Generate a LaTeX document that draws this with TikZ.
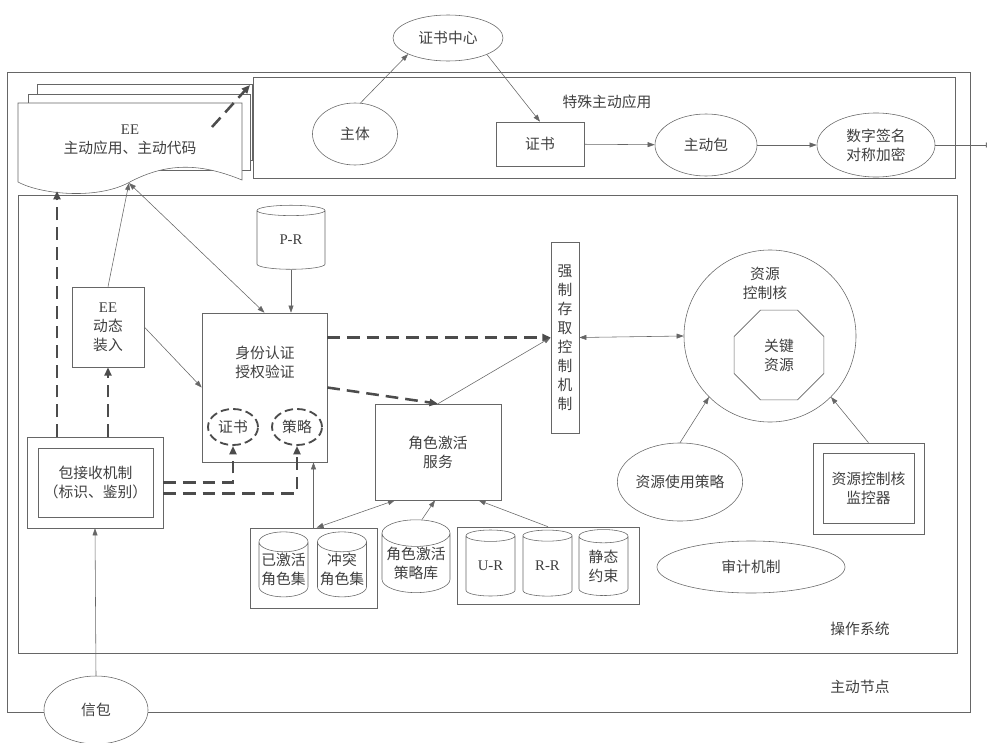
\documentclass[tikz,border=0pt]{standalone}
\usepackage{fontspec}
\setmainfont{Liberation Serif}
\newfontfamily\cjk{Noto Sans CJK SC}
\usepackage{tikz}
\usetikzlibrary{arrows.meta,shapes.geometric,calc}

\begin{document}
\begin{tikzpicture}[
    x=0.025cm, y=-0.025cm,
    % Style du texte pour tous les nœuds
    every node/.style={font=\fontsize{10.5}{13.5}\selectfont\cjk, text=black!75, align=center},
    % Style pour les boîtes rectangulaires
    boxnode/.style={rectangle, draw=black!60, thin, fill=white, inner sep=0pt},
    % Style pour les ellipses
    ellnode/.style={ellipse, draw=black!60, thin, fill=white, inner sep=0pt},
    % Style pour les bases de données (cylindres)
    cylnode/.style={cylinder, shape border rotate=90, shape aspect=0.45, draw=black!60, thin, fill=white, inner sep=0pt},
    % Style pour les cercles pointillés dans le bloc d'authentification
    dashnode/.style={ellipse, draw=black!70, line width=1.3pt, dash pattern=on 6pt off 3pt, inner sep=0pt, minimum width=1.25cm, minimum height=0.9cm},
    % Style pour les textes libres
    txtnode/.style={draw=none, fill=none, inner sep=0pt},
    % Style pour les liaisons fines
    thinline/.style={draw=black!60, thin, -{Triangle[length=5pt,width=3.5pt]}},
    % Style pour les liaisons épaisses en tirets
    dashline/.style={draw=black!70, line width=1.8pt, dash pattern=on 9pt off 5pt, -{Triangle[length=6pt,width=5pt]}}
]
\useasboundingbox (0,0) rectangle (987,743);

% Cadres principaux
\draw[black!60, thin] (7,72) rectangle (970,712);
\draw[black!60, thin] (253,77) rectangle (955,178);
\draw[black!60, thin] (18,195) rectangle (957,653);
\node[txtnode] (lblapp) at (607,102) {特殊主动应用};
\node[txtnode] (lblos) at (860,629) {操作系统};
\node[txtnode] (lblnode) at (860,687) {主动节点};

% Document EE (pages empilées)
\draw[black!60, thin, fill=white] (37,84) rectangle (252,160);
\draw[black!60, thin, fill=white] (28,94) rectangle (250,170);
\draw[black!60, thin, fill=white] (18,103) -- (242,103) -- (242,180)
    .. controls (205,165) and (170,160) .. (128,183)
    .. controls (95,200) and (40,194) .. (18,182) -- cycle;
\node[txtnode] (ee) at (130,140) {{\rmfamily EE}\\主动应用、主动代码};
\coordinate (eebot) at (129,183);
\coordinate (eeleft) at (57,191);
\coordinate (eecorner) at (212,127);
\coordinate (apptip) at (250,85);

% Partie haute : certificats
\node[ellnode, minimum width=2.75cm, minimum height=1.15cm] (zsc) at (448,38) {证书中心};
\node[ellnode, minimum width=2.125cm, minimum height=1.55cm] (zhuti) at (355,134) {主体};
\node[boxnode, minimum width=2.2cm, minimum height=1.1cm] (zs) at (540,144) {证书};
\node[ellnode, minimum width=2.55cm, minimum height=1.55cm] (zdb) at (706,145) {主动包};
\node[ellnode, minimum width=2.95cm, minimum height=1.6cm] (sig) at (876,145) {数字签名\\对称加密};
\coordinate (sortie) at (993,145);

% Bloc d'authentification
\node[cylnode, minimum width=1.7cm, minimum height=1.6cm] (pr) at (291,240) {\rmfamily P-R};
\node[boxnode, minimum width=3.125cm, minimum height=3.725cm] (auth) at (264.5,387.5) {};
\node[txtnode] (authtxt) at (265,362) {身份认证\\授权验证};
\node[dashnode] (cert) at (233,427) {证书};
\node[dashnode] (strat) at (297,427) {策略};
\node[boxnode, minimum width=1.8cm, minimum height=2cm] (eedyn) at (108,327) {{\rmfamily EE}\\动态\\装入};

% Réception des paquets
\node[boxnode, minimum width=3.4cm, minimum height=2.275cm] (pkt) at (95,482.5) {};
\node[boxnode, minimum width=2.875cm, minimum height=1.725cm] (pktin) at (95.5,482.5) {包接收机制\\（标识、鉴别）};
\node[ellnode, minimum width=2.6cm, minimum height=1.7cm] (xb) at (96,710) {信包};

% Contrôle d'accès et rôles
\node[boxnode, minimum width=0.7cm, minimum height=4.775cm] (mac) at (565,337.5) {强\\制\\存\\取\\控\\制\\机\\制};
\node[boxnode, minimum width=3.15cm, minimum height=2.4cm] (role) at (438,452) {角色激活\\服务};

% Bases de données en bas
\node[boxnode, minimum width=3.175cm, minimum height=2cm] (g1) at (313.5,568) {};
\node[cylnode, minimum width=1.225cm, minimum height=1.625cm] (act) at (283.5,569.5) {已激活\\角色集};
\node[cylnode, minimum width=1.225cm, minimum height=1.625cm] (conf) at (342,569.5) {冲突\\角色集};
\node[cylnode, minimum width=1.7cm, minimum height=1.7cm] (lib) at (416,563) {角色激活\\策略库};
\node[boxnode, minimum width=4.55cm, minimum height=1.925cm] (g2) at (548,565.5) {};
\node[cylnode, minimum width=1.225cm, minimum height=1.65cm] (ur) at (490.5,566) {\rmfamily U-R};
\node[cylnode, minimum width=1.225cm, minimum height=1.65cm] (rr) at (547.5,566) {\rmfamily R-R};
\node[cylnode, minimum width=1.225cm, minimum height=1.65cm] (stat) at (603.5,566) {静态\\约束};

% Noyau de contrôle des ressources
\node[circle, draw=black!60, thin, fill=white, inner sep=0pt, minimum size=4.3cm] (core) at (770,336) {};
\node[txtnode] (coretxt) at (765,283) {资源\\控制核};
\node[regular polygon, regular polygon sides=8, draw=black!60, thin, inner sep=0pt, minimum size=2.425cm] (key) at (779,355) {关键\\资源};
\node[ellnode, minimum width=3.05cm, minimum height=1.95cm] (policy) at (680,482) {资源使用策略};
\node[boxnode, minimum width=2.775cm, minimum height=2.275cm] (mon) at (868.5,488.5) {};
\node[boxnode, minimum width=2.275cm, minimum height=1.75cm] (monin) at (868.5,488) {资源控制核\\监控器};
\node[ellnode, minimum width=4.7cm, minimum height=1.3cm] (audit) at (751,567) {审计机制};

% Liaisons fines
\draw[thinline] (zhuti.80) -- (zsc.202);
\draw[thinline] (zsc.-23) -- (zs.north);
\draw[thinline] (zs) -- (zdb);
\draw[thinline] (zdb) -- (sig);
\draw[thinline] (sig) -- (sortie);
\draw[thinline] (eedyn.north) -- (eebot);
\draw[thinline, {Triangle[length=5pt,width=3.5pt]}-{Triangle[length=5pt,width=3.5pt]}] (eebot) -- (auth.north);
\draw[thinline] (eedyn.east) -- (auth.west);
\draw[thinline] (pr.south) -- (pr.south |- auth.north);
\draw[thinline] (role.north) -- (mac.west);
\draw[thinline, {Triangle[length=5pt,width=3.5pt]}-{Triangle[length=5pt,width=3.5pt]}] (mac.east) -- (core.west);
\draw[thinline] (policy.north) -- (core.225);
\draw[thinline] (mon.north) -- (core.315);
\draw[thinline] (xb.north) -- (pkt.south);
\draw[thinline] (g1.north) -- (g1.north |- auth.south);
\draw[thinline, {Triangle[length=5pt,width=3.5pt]}-{Triangle[length=5pt,width=3.5pt]}] ($(g1.north)+(3,0)$) -- ($(role.south west)!0.16!(role.south east)$);
\draw[thinline] ($(lib.north)+(6,0)$) -- ($(role.south)+(-3,0)$);
\draw[thinline] (g2.north) -- ($(role.south)!0.64!(role.south east)$);

% Liaisons épaisses en tirets
\draw[dashline] (eecorner) -- (apptip);
\draw[dashline] (pkt.north -| eeleft) -- (eeleft);
\draw[dashline] (pkt.north -| eedyn) -- (eedyn.south);
\draw[dashline] (pkt.east) -| (cert.south);
\draw[dashline] ($(pkt.east)+(0,11)$) -| (strat.south);
\draw[dashline] (auth.north east |- mac.west) -- (mac.west);
\draw[dashline] (auth.east) -- (role.north);
\end{tikzpicture}
\end{document}
